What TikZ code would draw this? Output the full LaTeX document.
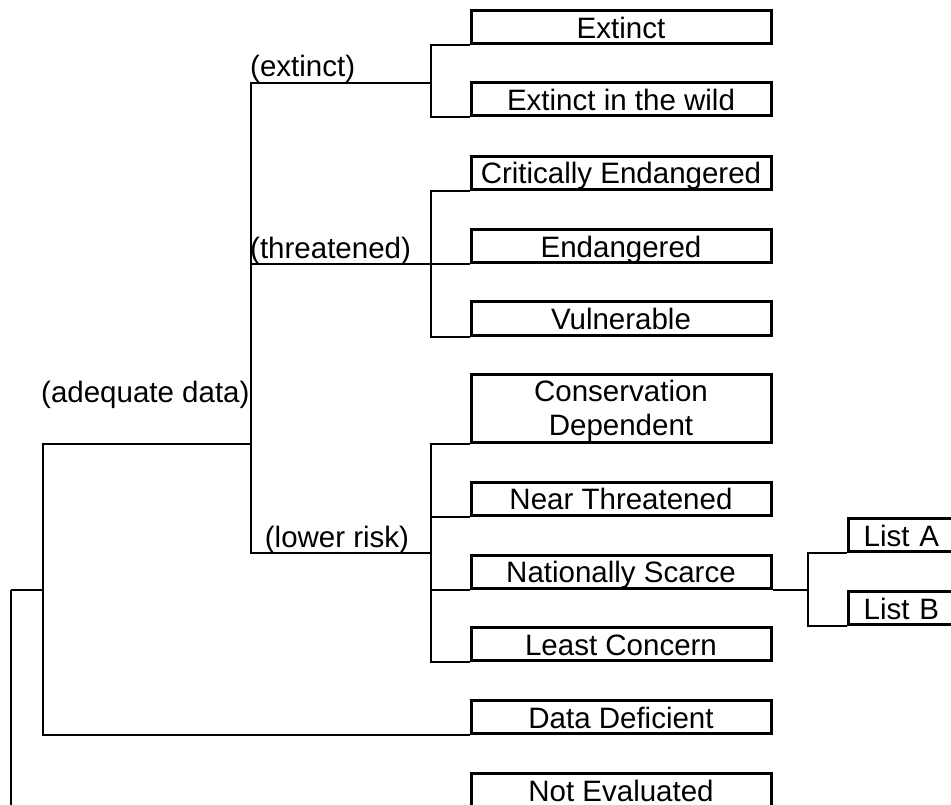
\documentclass[tikz,border=0pt]{standalone}
\usepackage{fontspec}
\setmainfont{Liberation Sans}
\begin{document}
\begin{tikzpicture}[x=1pt,y=-1pt,
  conn/.style={line width=2pt},
  catbox/.style={draw,line width=3pt,anchor=south west,minimum width=300pt,minimum height=33pt,
    inner xsep=0pt,inner ysep=0.5pt,text height=27pt,text depth=5pt,font=\fontsize{29.5}{34}\selectfont},
  listbox/.style={draw,line width=3pt,anchor=south west,minimum height=33pt,text width=130pt,align=left,
    inner xsep=15pt,inner ysep=0.5pt,text height=27pt,text depth=5pt,font=\fontsize{29.5}{34}\selectfont},
  lbl/.style={anchor=base west,inner sep=0pt,font=\fontsize{29.5}{34}\selectfont}]
\useasboundingbox (0,0) rectangle (951,805);
\clip (0,0) rectangle (951,805);
% category boxes
\node[catbox] (ex) at (469.5,45.5) {Extinct};
\node[catbox] (ew) at (469.5,117.5) {Extinct in the wild};
\node[catbox] (ce) at (469.5,191) {Critically Endangered};
\node[catbox] (en) at (469.5,264.5) {Endangered};
\node[catbox] (vu) at (469.5,336.5) {Vulnerable};
\node[draw,line width=3pt,anchor=south west,minimum width=300pt,minimum height=68pt,inner sep=0pt,
  align=center,font=\fontsize{29.5}{34}\selectfont] (cd) at (469.5,443.5) {\rule{0pt}{27pt}Conservation\\Dependent};
\node[catbox] (nt) at (469.5,516.5) {Near Threatened};
\node[catbox] (ns) at (469.5,589.5) {Nationally Scarce};
\node[catbox] (lc) at (469.5,662) {Least Concern};
\node[catbox] (dd) at (469.5,735) {Data Deficient};
\node[catbox] (ne) at (469.5,808) {Not Evaluated};
\node[listbox] (la) at (847.2,553) {List A};
\node[listbox] (lb) at (847.2,626) {List B};
% branch labels
\node[lbl] (lext) at (250,77) {(extinct)};
\node[lbl] (lthr) at (250,259) {(threatened)};
\node[lbl] (ladq) at (41,402.5) {(adequate data)};
\node[lbl] (llow) at (264.7,547.5) {(lower risk)};
% junctions
\coordinate (jroot) at (11,589.5);
\coordinate (jall) at (42.7,589.5);
\coordinate (jadq) at (250.7,443.5);
\coordinate (jext) at (430.7,82.7);
\coordinate (jthr) at (430.7,264.5);
\coordinate (jlow) at (430.7,552.7);
\coordinate (jns) at (808,589.5);
% connectors
\draw[conn] (jroot) -- (jall);
\draw[conn] (jroot) |- (ne.south west);
\draw[conn] (jall) |- (jadq);
\draw[conn] (jall) |- (dd.south west);
\draw[conn] (jadq) |- (jext);
\draw[conn] (jadq) |- (jthr);
\draw[conn] (jadq) |- (jlow);
\draw[conn] (jext) |- (ex.south west);
\draw[conn] (jext) |- (ew.south west);
\draw[conn] (jthr) |- (ce.south west);
\draw[conn] (jthr) -- (en.south west);
\draw[conn] (jthr) |- (vu.south west);
\draw[conn] (jlow) |- (cd.south west);
\draw[conn] (jlow) |- (nt.south west);
\draw[conn] (jlow) |- (ns.south west);
\draw[conn] (jlow) |- (lc.south west);
\draw[conn] (ns.south east) -- (jns);
\draw[conn] (jns) |- (la.south west);
\draw[conn] (jns) |- (lb.south west);
\end{tikzpicture}
\end{document}
